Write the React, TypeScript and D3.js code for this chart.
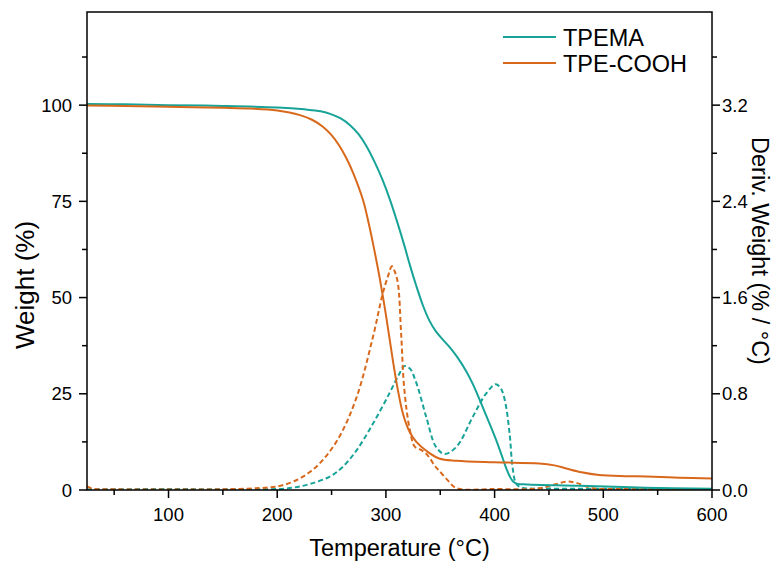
import React from "react";
import * as d3 from "d3";

// ---- Data ----
const tpemaWT = [25, 60, 100, 150, 200, 225, 240, 250, 258, 267, 275, 282, 290, 297, 304, 310, 317, 322, 328, 334, 340, 346, 352, 359, 366, 374, 380, 386, 392, 398, 403, 408, 411, 414, 417, 421, 430, 478, 539, 600];
const tpemaW = [100.3, 100.2, 100, 99.8, 99.4, 98.9, 98.4, 97.6, 96.6, 94.8, 92.4, 89.4, 85.0, 80.5, 75.2, 70, 63.5, 58.5, 53, 48, 44, 41.2, 39.2, 37.0, 34.4, 30.8, 27.5, 23.6, 19.5, 15.4, 11.8, 7.8, 5.4, 3.5, 2.2, 1.6, 1.45, 1.1, 0.6, 0.3];

const coohWT = [25, 60, 100, 150, 175, 200, 221, 232, 242, 250, 257, 264, 270, 279, 284, 288, 294, 300, 306.5, 311, 316, 322, 328, 338, 349, 365, 400, 441, 455, 466, 480, 496, 520, 540, 570, 600];
const coohW = [99.9, 99.8, 99.6, 99.3, 99.1, 98.6, 97.4, 96.2, 94.4, 92.2, 89.5, 86, 82.3, 75.3, 69.5, 64.2, 55.5, 45.5, 33.5, 26, 19.5, 15, 12.5, 10, 8.2, 7.6, 7.2, 6.9, 6.4, 5.6, 4.6, 3.9, 3.6, 3.5, 3.2, 3.0];

const tpemaDT = [25, 100, 150, 200, 215, 230, 248, 260, 273, 288, 303, 312, 317, 322, 328, 337, 346, 354, 365, 380, 392, 401, 406, 410, 414, 416.5, 420, 425, 450, 500, 600];
const tpemaD = [0.005, 0.008, 0.006, 0.008, 0.02, 0.05, 0.11, 0.19, 0.33, 0.55, 0.80, 0.96, 1.03, 1.01, 0.89, 0.61, 0.36, 0.30, 0.36, 0.61, 0.80, 0.88, 0.84, 0.72, 0.45, 0.19, 0.05, 0.02, 0.012, 0.01, 0.008];

const coohDT = [25, 30, 50, 100, 150, 193, 205, 218, 230, 242, 257, 273, 288, 297, 302, 305.5, 308, 311, 314, 317, 322, 326.5, 331, 336, 340, 345, 349, 357, 365, 400, 440, 455, 466, 475, 490, 520, 600];
const coohD = [0.03, 0.012, 0.006, 0.005, 0.006, 0.022, 0.04, 0.083, 0.15, 0.25, 0.44, 0.77, 1.27, 1.63, 1.78, 1.86, 1.82, 1.72, 1.30, 0.83, 0.50, 0.36, 0.34, 0.31, 0.27, 0.2, 0.16, 0.08, 0.015, 0.008, 0.013, 0.045, 0.07, 0.06, 0.015, 0.008, 0.005];

const seriesNames = ["TPEMA", "TPE-COOH"];
const xTicks = [100, 200, 300, 400, 500, 600];
const xMinor = [50, 150, 250, 350, 450, 550];
const yTicks = [0, 25, 50, 75, 100];
const yMinor = [12.5, 37.5, 62.5, 87.5, 112.5];
const y2Ticks = [0, 0.8, 1.6, 2.4, 3.2];
const y2Minor = [0.4, 1.2, 2.0, 2.8, 3.6];

const TEAL = "#17a398";
const ORANGE = "#d8691c";
const FONT = "'Liberation Sans', Arial, sans-serif";

export default function App() {
  const W = 780, H = 563;
  const L = 87, R = 712, T = 12, B = 490;
  const x = d3.scaleLinear().domain([25, 600]).range([L, R]);
  const y = d3.scaleLinear().domain([0, 124.2]).range([B, T]);
  const y2 = d3.scaleLinear().domain([0, 124.2 * 0.032]).range([B, T]);

  const mk = (xs: number[], ys: number[], sc: d3.ScaleLinear<number, number>) =>
    d3.line<number>().x((_, i) => x(xs[i])).y((v) => sc(v)).curve(d3.curveCatmullRom.alpha(0.5))(ys) || "";

  const fmt2 = d3.format(".1f");
  return (
    <svg width={W} height={H} style={{ position: "absolute", left: 0, top: 0, background: "#fff" }} fontFamily={FONT}>
      <rect x={0} y={0} width={W} height={H} fill="#fff" />
      <defs>
        <clipPath id="clip"><rect x={L} y={T} width={R - L} height={B - T} /></clipPath>
      </defs>
      <g clipPath="url(#clip)" fill="none" strokeWidth={2} strokeLinejoin="round">
        <path d={mk(tpemaDT, tpemaD, y2)} stroke={TEAL} strokeDasharray="5,3" />
        <path d={mk(coohDT, coohD, y2)} stroke={ORANGE} strokeDasharray="5,3" />
        <path d={mk(tpemaWT, tpemaW, y)} stroke={TEAL} />
        <path d={mk(coohWT, coohW, y)} stroke={ORANGE} />
      </g>
      {/* frame */}
      <rect x={L} y={T} width={R - L} height={B - T} fill="none" stroke="#000" strokeWidth={1.5} />
      {/* x ticks */}
      {xTicks.map((t) => (
        <g key={"x" + t}>
          <line x1={x(t)} x2={x(t)} y1={B} y2={B + 8} stroke="#000" strokeWidth={1.5} />
          <text x={x(t)} y={B + 31} textAnchor="middle" fontSize={18.5}>{t}</text>
        </g>
      ))}
      {xMinor.map((t) => (
        <line key={"xm" + t} x1={x(t)} x2={x(t)} y1={B} y2={B + 5} stroke="#000" strokeWidth={1.5} />
      ))}
      {/* y ticks */}
      {yTicks.map((t) => (
        <g key={"y" + t}>
          <line x1={L - 8} x2={L} y1={y(t)} y2={y(t)} stroke="#000" strokeWidth={1.5} />
          <text x={L - 15} y={y(t) + 6.5} textAnchor="end" fontSize={18.5}>{t}</text>
        </g>
      ))}
      {yMinor.map((t) => (
        <line key={"ym" + t} x1={L - 5} x2={L} y1={y(t)} y2={y(t)} stroke="#000" strokeWidth={1.5} />
      ))}
      {/* y2 ticks */}
      {y2Ticks.map((t) => (
        <g key={"y2" + t}>
          <line x1={R} x2={R + 8} y1={y2(t)} y2={y2(t)} stroke="#000" strokeWidth={1.5} />
          <text x={R + 10} y={y2(t) + 6.5} textAnchor="start" fontSize={18.5}>{fmt2(t)}</text>
        </g>
      ))}
      {y2Minor.map((t) => (
        <line key={"y2m" + t} x1={R} x2={R + 5} y1={y2(t)} y2={y2(t)} stroke="#000" strokeWidth={1.5} />
      ))}
      {/* axis titles */}
      <text x={(L + R) / 2} y={556} textAnchor="middle" fontSize={23.5}>Temperature (°C)</text>
      <text transform={`translate(34,285) rotate(-90)`} textAnchor="middle" fontSize={26}>Weight (%)</text>
      <text transform={`translate(752,${(T + B) / 2}) rotate(90)`} textAnchor="middle" fontSize={23.5}>Deriv. Weight (% / °C)</text>
      {/* legend */}
      <line x1={503} x2={556} y1={37} y2={37} stroke={TEAL} strokeWidth={2} />
      <text x={563} y={45.5} fontSize={23.5}>{seriesNames[0]}</text>
      <line x1={503} x2={556} y1={63} y2={63} stroke={ORANGE} strokeWidth={2} />
      <text x={563} y={71.5} fontSize={23.5}>{seriesNames[1]}</text>
    </svg>
  );
}
